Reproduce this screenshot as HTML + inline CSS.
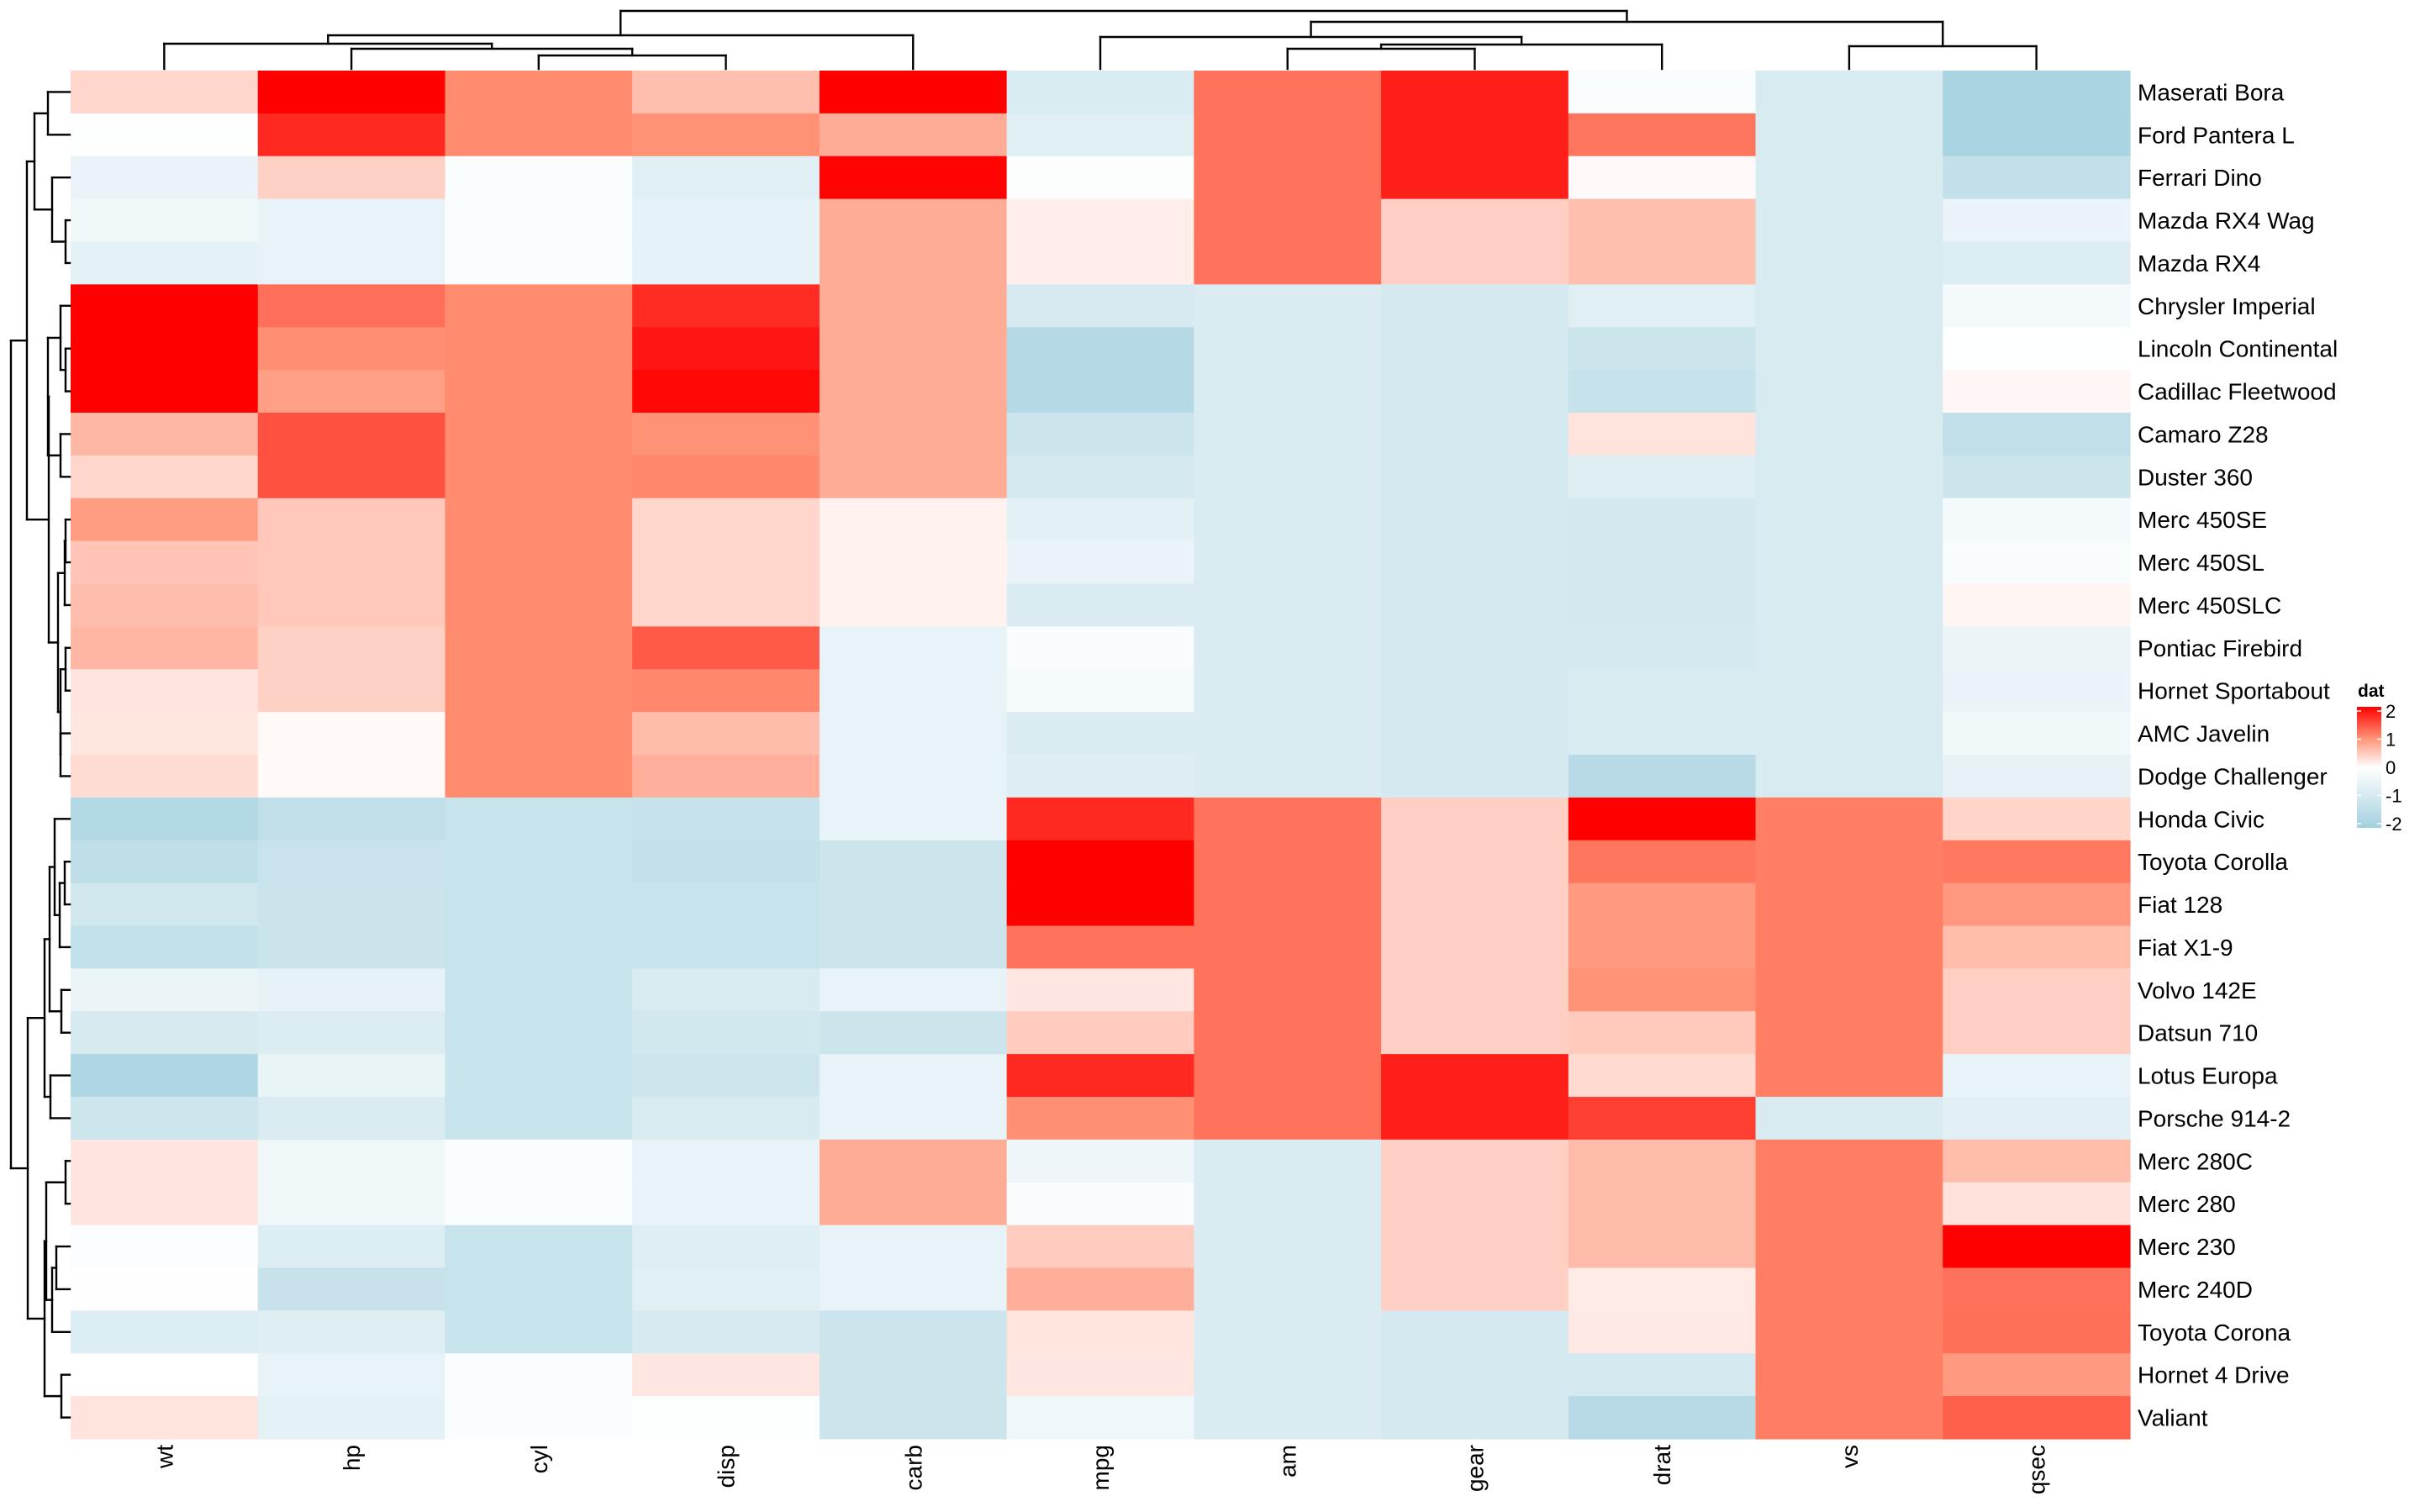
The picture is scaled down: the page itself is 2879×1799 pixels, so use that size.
<!DOCTYPE html>
<html><head><meta charset="utf-8"><style>
html,body{margin:0;padding:0;background:#fff;}
svg{display:block;font-family:"Liberation Sans",Arial,sans-serif;}
</style></head><body>
<svg id="chart" width="2879" height="1799" viewBox="0 0 2879 1799" xmlns="http://www.w3.org/2000/svg">
<g id="cells"></g>
<g id="coldend"></g>
<g id="rowdend"></g>
<g id="rowlabels"></g>
<g id="collabels"></g>
<g id="legend">
<defs><linearGradient id="lg" x1="0" y1="1" x2="0" y2="0">
<stop offset="0" stop-color="#a2d0df"/><stop offset="0.25" stop-color="#d2e8ef"/><stop offset="0.5" stop-color="#ffffff"/><stop offset="0.75" stop-color="#ff8e71"/><stop offset="1" stop-color="#ff0000"/></linearGradient></defs>
<text x="2805" y="829" font-size="21" font-weight="bold">dat</text>
<rect x="2804" y="841" width="29" height="144" fill="url(#lg)"/>
</g>
</svg>
<script>
const rowNames=["Maserati Bora","Ford Pantera L","Ferrari Dino","Mazda RX4 Wag","Mazda RX4","Chrysler Imperial","Lincoln Continental","Cadillac Fleetwood","Camaro Z28","Duster 360","Merc 450SE","Merc 450SL","Merc 450SLC","Pontiac Firebird","Hornet Sportabout","AMC Javelin","Dodge Challenger","Honda Civic","Toyota Corolla","Fiat 128","Fiat X1-9","Volvo 142E","Datsun 710","Lotus Europa","Porsche 914-2","Merc 280C","Merc 280","Merc 230","Merc 240D","Toyota Corona","Hornet 4 Drive","Valiant"];
const colNames=["wt","hp","cyl","disp","carb","mpg","am","gear","drat","vs","qsec"];
const wt=[3.57,3.17,2.77,2.875,2.62,5.345,5.424,5.25,3.84,3.57,4.07,3.73,3.78,3.845,3.44,3.435,3.52,1.615,1.835,2.2,1.935,2.78,2.32,1.513,2.14,3.44,3.44,3.15,3.19,2.465,3.215,3.46];
const hp=[335,264,175,110,110,230,215,205,245,245,180,180,180,175,175,150,150,52,65,66,66,109,93,113,91,123,123,95,62,97,110,105];
const cyl=[8,8,6,6,6,8,8,8,8,8,8,8,8,8,8,8,8,4,4,4,4,4,4,4,4,6,6,4,4,4,6,6];
const disp=[301,351,145,160,160,440,460,472,350,360,275.8,275.8,275.8,400,360,304,318,75.7,71.1,78.7,79,121,108,95.1,120.3,167.6,167.6,140.8,146.7,120.1,258,225];
const carb=[8,4,6,4,4,4,4,4,4,4,3,3,3,2,2,2,2,2,1,1,1,2,1,2,2,4,4,2,2,1,1,1];
const mpg=[15.0,15.8,19.7,21.0,21.0,14.7,10.4,10.4,13.3,14.3,16.4,17.3,15.2,19.2,18.7,15.2,15.5,30.4,33.9,32.4,27.3,21.4,22.8,30.4,26.0,17.8,19.2,22.8,24.4,21.5,21.4,18.1];
const am=[1,1,1,1,1,0,0,0,0,0,0,0,0,0,0,0,0,1,1,1,1,1,1,1,1,0,0,0,0,0,0,0];
const gear=[5,5,5,4,4,3,3,3,3,3,3,3,3,3,3,3,3,4,4,4,4,4,4,5,5,4,4,4,4,3,3,3];
const drat=[3.54,4.22,3.62,3.90,3.90,3.23,3.00,2.93,3.73,3.21,3.07,3.07,3.07,3.08,3.15,3.15,2.76,4.93,4.22,4.08,4.08,4.11,3.85,3.77,4.43,3.92,3.92,3.92,3.69,3.70,3.08,2.76];
const vs=[0,0,0,0,0,0,0,0,0,0,0,0,0,0,0,0,0,1,1,1,1,1,1,1,0,1,1,1,1,1,1,1];
const qsec=[14.6,14.5,15.5,17.02,16.46,17.42,17.82,17.98,15.41,15.84,17.4,17.6,18.0,17.05,17.02,17.3,16.87,18.52,19.9,19.47,18.9,18.6,18.61,16.9,16.7,18.9,18.3,22.9,20.0,20.01,19.44,20.22];
const legendTicks=[2,1,0,-1,-2];
const colTree=[[[0,[1,[2,3,66],58],52],4,42],[[5,[[6,7,58],8,53],44],[9,10,55],26],13];
const rowTree=[[[[0,1,57],[2,[3,4,78],62],41],[[[5,[6,7,78],72],[8,9,72],57],[[[10,11,78],12,77],[[13,14,78],[15,16,72],72],69],58],32],
 [[[[17,[[18,19,77],20,71],65],[21,22,73],59],[23,24,60],53],[[[25,26,78],[[27,28,67],29,62],55],[30,31,73],53],33],13];

const cols=[wt,hp,cyl,disp,carb,mpg,am,gear,drat,vs,qsec];
const NS="http://www.w3.org/2000/svg";
const X0=84,X1=2534,Y0=84,Y1=1712;
const cw=(X1-X0)/colNames.length, rh=(Y1-Y0)/rowNames.length;
const xC=i=>X0+cw*(i+0.5), yR=j=>Y0+rh*(j+0.5);
const stops=[[-2,[162,208,223]],[-1,[210,232,239]],[0,[255,255,255]],[1,[255,142,113]],[2,[255,0,0]]];
function color(v){v=Math.max(-2,Math.min(2,v));for(let k=0;k<4;k++){const a=stops[k],b=stops[k+1];if(v<=b[0]){const t=(v-a[0])/(b[0]-a[0]);const c=a[1].map((x,i)=>Math.round(x+(b[1][i]-x)*t));return `rgb(${c})`;}}return "red";}
function z(arr){const n=arr.length,m=arr.reduce((a,b)=>a+b,0)/n;const sd=Math.sqrt(arr.reduce((a,b)=>a+(b-m)*(b-m),0)/(n-1));return arr.map(v=>(v-m)/sd);}
const cellG=document.getElementById('cells');
cols.forEach((arr,ci)=>{const zs=z(arr);zs.forEach((v,ri)=>{
 const r=document.createElementNS(NS,'rect');
 r.setAttribute('x',X0+cw*ci);r.setAttribute('y',Y0+rh*ri);r.setAttribute('width',cw+0.6);r.setAttribute('height',rh+0.6);
 r.setAttribute('fill',color(v));
 
 
 cellG.appendChild(r);});});
function line(g,x1,y1,x2,y2){const l=document.createElementNS(NS,'line');l.setAttribute('x1',x1);l.setAttribute('y1',y1);l.setAttribute('x2',x2);l.setAttribute('y2',y2);l.setAttribute('stroke','#000');l.setAttribute('stroke-width','2.4');l.setAttribute('stroke-linecap','square');
 
 
 g.appendChild(l);}
function drawTree(node,g,pos,leafH,vertical){
 if(typeof node==='number')return [pos(node),leafH];
 const L=drawTree(node[0],g,pos,leafH,vertical),R=drawTree(node[1],g,pos,leafH,vertical),h=node[2];
 if(vertical){line(g,L[0],L[1],L[0],h);line(g,R[0],R[1],R[0],h);line(g,L[0],h,R[0],h);}
 else{line(g,L[1],L[0],h,L[0]);line(g,R[1],R[0],h,R[0]);line(g,h,L[0],h,R[0]);}
 return [(L[0]+R[0])/2,h];}
drawTree(colTree,document.getElementById('coldend'),xC,82,true);
drawTree(rowTree,document.getElementById('rowdend'),yR,83,false);
const rl=document.getElementById('rowlabels');
rowNames.forEach((n,i)=>{const t=document.createElementNS(NS,'text');t.setAttribute('x',2543);t.setAttribute('y',yR(i)+10);t.setAttribute('font-size','28');t.textContent=n;
 
 
 rl.appendChild(t);});
const cl=document.getElementById('collabels');
colNames.forEach((n,i)=>{const t=document.createElementNS(NS,'text');const x=xC(i)+10,y=1719;t.setAttribute('x',x);t.setAttribute('y',y);t.setAttribute('font-size','28');t.setAttribute('text-anchor','end');t.setAttribute('transform',`rotate(-90 ${x} ${y})`);t.textContent=n;
 
 
 cl.appendChild(t);});
const lg=document.getElementById('legend');
legendTicks.forEach(v=>{const y=913-v*33.5;
 const t=document.createElementNS(NS,'text');t.setAttribute('x',2838);t.setAttribute('y',y+8);t.setAttribute('font-size','22');t.textContent=v<0?'-'+Math.abs(v):String(v);
 
 
 lg.appendChild(t);
 const a=document.createElementNS(NS,'line');a.setAttribute('x1',2804);a.setAttribute('x2',2809);a.setAttribute('y1',y);a.setAttribute('y2',y);a.setAttribute('stroke','#fff');a.setAttribute('stroke-width','1.5');
 
 
 lg.appendChild(a);
 const b=document.createElementNS(NS,'line');b.setAttribute('x1',2828);b.setAttribute('x2',2833);b.setAttribute('y1',y);b.setAttribute('y2',y);b.setAttribute('stroke','#fff');b.setAttribute('stroke-width','1.5');
 
 
 lg.appendChild(b);});
</script>
</body></html>
